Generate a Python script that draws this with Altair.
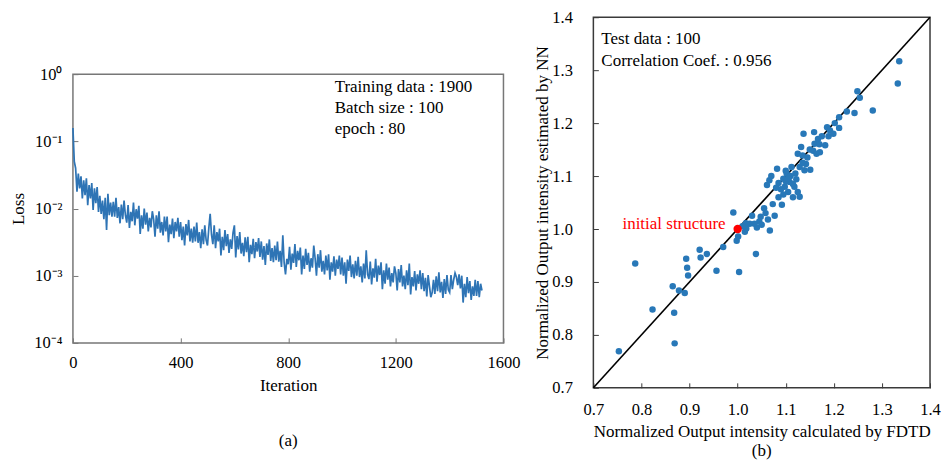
import altair as alt
import pandas as pd

FONT = "Liberation Serif"

# ---------------- (a) training loss ----------------
iterations = list(range(0, 1525, 5))
loss_log10 = [
    -0.80, -1.30, -1.40, -1.75, -1.48, -1.70, -1.52, -1.85, -1.58, -1.80, -1.55, -1.95, -1.65, -1.85, -1.62, -2.02, -1.70, -1.92, -1.68, -2.05,
    -1.81, -2.08, -1.88, -2.16, -1.84, -2.32, -1.78, -2.10, -1.91, -2.12, -1.90, -2.12, -1.84, -2.14, -1.98, -2.22, -1.94, -2.16, -1.88, -2.10,
    -2.21, -1.95, -2.29, -2.05, -2.19, -1.91, -2.25, -2.01, -2.15, -1.96, -2.38, -2.10, -2.30, -2.00, -2.24, -2.06, -2.34, -2.14, -2.28, -2.04,
    -2.16, -2.42, -2.10, -2.30, -2.04, -2.36, -2.20, -2.40, -2.12, -2.34, -2.12, -2.50, -2.24, -2.38, -2.15, -2.44, -2.20, -2.34, -2.14, -2.42,
    -2.20, -2.47, -2.27, -2.55, -2.23, -2.40, -2.17, -2.49, -2.30, -2.51, -2.27, -2.49, -2.21, -2.51, -2.35, -2.59, -2.31, -2.53, -2.25, -2.47,
    -2.55, -2.29, -2.08, -2.39, -2.53, -2.25, -2.59, -2.35, -2.49, -2.30, -2.70, -2.42, -2.62, -2.32, -2.56, -2.38, -2.66, -2.46, -2.60, -2.36,
    -2.25, -2.73, -2.41, -2.61, -2.35, -2.67, -2.51, -2.71, -2.43, -2.65, -2.42, -2.80, -2.54, -2.68, -2.45, -2.74, -2.50, -2.64, -2.44, -2.72,
    -2.49, -2.76, -2.56, -2.84, -2.52, -2.69, -2.46, -2.78, -2.59, -2.80, -2.55, -2.77, -2.49, -2.79, -2.63, -2.87, -2.40, -2.81, -2.98, -2.75,
    -2.83, -2.57, -2.91, -2.67, -2.81, -2.53, -2.87, -2.63, -2.77, -2.58, -2.98, -2.70, -2.90, -2.60, -2.84, -2.66, -2.94, -2.74, -2.88, -2.55,
    -2.74, -3.00, -2.68, -2.88, -2.62, -2.94, -2.78, -2.98, -2.70, -2.92, -2.68, -3.06, -2.80, -2.94, -2.71, -3.00, -2.76, -2.90, -2.70, -2.98,
    -2.73, -3.00, -2.80, -3.12, -2.76, -2.93, -2.70, -3.02, -2.83, -3.04, -2.78, -3.00, -2.72, -3.02, -2.86, -3.10, -2.82, -3.04, -2.62, -2.98,
    -3.05, -2.79, -3.13, -2.89, -3.03, -2.75, -3.09, -2.85, -2.99, -2.80, -3.20, -2.92, -3.12, -2.82, -3.06, -2.88, -3.16, -2.96, -3.10, -2.86,
    -2.96, -3.22, -2.90, -3.10, -2.84, -3.16, -3.00, -3.20, -2.92, -3.14, -2.82, -3.28, -3.02, -3.16, -2.93, -3.22, -2.98, -3.12, -2.92, -3.20,
    -2.96, -3.23, -3.03, -3.31, -2.99, -3.16, -3.32, -3.25, -3.06, -3.27, -3.01, -3.23, -2.95, -3.25, -3.09, -3.33, -3.05, -3.27, -2.99, -3.21,
    -3.25, -2.99, -3.20, -3.06, -2.96, -3.02, -3.14, -2.98, -3.19, -3.00, -3.40, -3.12, -3.32, -3.02, -3.26, -3.08, -3.36, -3.16, -3.30, -3.06,
    -3.30, -3.08, -3.32, -3.12, -3.22,
]
x_ticks_left = [0, 400, 800, 1200, 1600]
y_ticks_left = [0.0001, 0.001, 0.01, 0.1, 1]
notes_left = ["Training data : 1900", "Batch size : 100", "epoch : 80"]

# ---------------- (b) NN vs FDTD ----------------
fdtd = [0.753, 0.787, 0.823, 0.865, 0.868, 0.869, 0.878, 0.890, 0.893, 0.895,
        0.897, 0.921, 0.923, 0.936, 0.956, 0.970, 0.991, 0.998, 1.001, 1.003,
        1.015, 1.017, 1.018, 1.030, 1.038, 1.040, 1.045, 1.048, 1.055, 1.035,
        1.067, 1.073, 1.077, 1.092, 1.061, 1.066, 1.070, 1.082, 1.085, 1.095,
        1.098, 1.102, 1.105, 1.108, 1.112, 1.115, 1.118, 1.122, 1.125, 1.129,
        1.129, 1.132, 1.135, 1.137, 1.139, 1.142, 1.151, 1.157, 1.159, 1.160,
        1.164, 1.167, 1.171, 1.182, 1.186, 1.189, 1.192, 1.202, 1.211, 1.211,
        1.227, 1.243, 1.249, 1.254, 1.281, 1.333, 1.336, 1.199, 1.058, 1.063,
        1.085, 1.090, 1.100, 1.110, 1.120, 1.115, 1.105, 1.125, 1.135, 1.145,
        1.150, 1.170, 1.175, 1.095, 1.010, 1.025, 1.050, 1.080, 1.100]
nn = [0.769, 0.935, 0.848, 0.892, 0.842, 0.784, 0.884, 0.879, 0.944, 0.927,
      0.912, 0.961, 0.946, 0.953, 0.921, 0.966, 1.031, 0.978, 0.986, 0.919,
      0.995, 1.011, 1.001, 1.025, 0.953, 1.003, 1.014, 1.023, 1.039, 1.010,
      0.997, 1.047, 1.025, 1.046, 1.083, 1.092, 1.100, 1.114, 1.087, 1.095,
      1.080, 1.105, 1.070, 1.089, 1.117, 1.060, 1.080, 1.094, 1.142, 1.061,
      1.117, 1.155, 1.139, 1.180, 1.111, 1.123, 1.112, 1.148, 1.183, 1.161,
      1.142, 1.170, 1.145, 1.158, 1.192, 1.175, 1.186, 1.200, 1.191, 1.211,
      1.222, 1.219, 1.260, 1.248, 1.224, 1.275, 1.317, 1.180, 1.030, 1.018,
      1.060, 1.075, 1.090, 1.100, 1.105, 1.085, 1.095, 1.070, 1.125, 1.135,
      1.150, 1.160, 1.175, 1.065, 1.005, 1.010, 1.008, 1.078, 1.110]
init_x = [1.0]
init_y = [1.0]
init_label = "initial structure"
diag = [0.7, 1.4]
ticks_right = [0.7, 0.8, 0.9, 1.0, 1.1, 1.2, 1.3, 1.4]
notes_right = ["Test data : 100", "Correlation Coef. : 0.956"]

one_row = pd.DataFrame({"k": [0]})


def note_layers(lines, x0, y0, step):
    return [
        alt.Chart(one_row).mark_text(
            text=t, align="left", baseline="alphabetic", fontSize=17, font=FONT, color="black"
        ).encode(x=alt.value(x0), y=alt.value(y0 + i * step))
        for i, t in enumerate(lines)
    ]


# ---------------- build (a) ----------------
LW, LH = 431, 269
LEFT_FRAME = "#777777"
df_loss = pd.DataFrame({"iteration": iterations, "loss": [10 ** v for v in loss_log10]})
xs_left = alt.Scale(domain=[0, 1600], nice=False, zero=False)
ys_left = alt.Scale(type="log", domain=[0.0001, 1], nice=False)
sup_expr = ("datum.value > 0.5 ? '10⁰' : datum.value > 0.05 ? '10⁻¹' : "
            "datum.value > 0.005 ? '10⁻²' : datum.value > 0.0005 ? '10⁻³' : '10⁻⁴'")

loss_line = alt.Chart(df_loss).mark_line(color="#2e74b5", strokeWidth=1.7).encode(
    x=alt.X("iteration:Q", scale=xs_left,
            axis=alt.Axis(orient="bottom", values=x_ticks_left, format="d", title="Iteration", tickSize=0,
                          domain=False, grid=False, labelPadding=12, titlePadding=6, labelFlush=False)),
    y=alt.Y("loss:Q", scale=ys_left,
            axis=alt.Axis(orient="left", values=y_ticks_left, labelExpr=sup_expr, title="Loss", tickSize=0,
                          domain=False, grid=False, labelPadding=11, titlePadding=6, labelFlush=False)),
)
left_ticks = alt.Chart(df_loss).mark_line(opacity=0).encode(
    x=alt.X("iteration:Q", scale=xs_left,
            axis=alt.Axis(orient="top", offset=-LH, values=x_ticks_left, labels=False, title=None,
                          tickSize=5, tickColor=LEFT_FRAME, domain=False, grid=False)),
    y=alt.Y("loss:Q", scale=ys_left,
            axis=alt.Axis(orient="right", offset=-LW, values=y_ticks_left, labels=False, title=None,
                          tickSize=5, tickColor=LEFT_FRAME, domain=False, grid=False)),
)

left = alt.layer(loss_line, left_ticks, *note_layers(notes_left, 262, 18, 21)).properties(
    width=LW, height=LH,
    view=alt.ViewBackground(stroke=LEFT_FRAME, strokeWidth=1.5),
    title=alt.TitleParams("(a)", orient="bottom", offset=40, fontSize=17, font=FONT,
                          fontWeight="normal", anchor="middle", frame="group", color="black"),
)
spacer = alt.Chart(one_row).mark_point(opacity=0, size=1).encode(
    x=alt.value(2), y=alt.value(24)
).properties(width=LW, height=47, view=alt.ViewBackground(stroke="transparent"))
left_col = alt.vconcat(spacer, left, spacing=0)

# ---------------- build (b) ----------------
RW, RH = 337, 371
RIGHT_FRAME = "#3a3a3a"
xs_r = alt.Scale(domain=[0.7, 1.4], nice=False, zero=False)
ys_r = alt.Scale(domain=[0.7, 1.4], nice=False, zero=False)

diag_line = alt.Chart(pd.DataFrame({"a": diag, "b": diag})).mark_line(color="black", strokeWidth=1.6).encode(
    x=alt.X("a:Q", scale=xs_r,
            axis=alt.Axis(orient="bottom", values=ticks_right, format=".1f",
                          title="Normalized Output intensity calculated by FDTD",
                          tickSize=0, domain=False, grid=False, labelPadding=14, titlePadding=5, labelFlush=False)),
    y=alt.Y("b:Q", scale=ys_r,
            axis=alt.Axis(orient="left", values=ticks_right, format=".1f",
                          title="Normalized Output intensity estimated by NN",
                          tickSize=0, domain=False, grid=False, labelPadding=21, titlePadding=0, labelFlush=False)),
)
right_ticks = alt.Chart(pd.DataFrame({"a": diag, "b": diag})).mark_line(opacity=0).encode(
    x=alt.X("a:Q", scale=xs_r,
            axis=alt.Axis(orient="top", offset=-RH, values=ticks_right, labels=False, title=None,
                          tickSize=5, tickColor=RIGHT_FRAME, domain=False, grid=False)),
    y=alt.Y("b:Q", scale=ys_r,
            axis=alt.Axis(orient="right", offset=-RW, values=ticks_right, labels=False, title=None,
                          tickSize=5, tickColor=RIGHT_FRAME, domain=False, grid=False)),
)
pts = alt.Chart(pd.DataFrame({"fdtd": fdtd, "nn": nn})).mark_circle(size=42, color="#2878b8", opacity=1).encode(
    x=alt.X("fdtd:Q", scale=xs_r, axis=None),
    y=alt.Y("nn:Q", scale=ys_r, axis=None),
)
df_init = pd.DataFrame({"x": init_x, "y": init_y})
red_pt = alt.Chart(df_init).mark_circle(size=70, color="#ff0000", opacity=1).encode(
    x=alt.X("x:Q", scale=xs_r, axis=None),
    y=alt.Y("y:Q", scale=ys_r, axis=None),
)
red_lbl = alt.Chart(df_init).mark_text(
    text=init_label, color="#ff0000", align="right", baseline="alphabetic", dx=-12, fontSize=17, font=FONT
).encode(
    x=alt.X("x:Q", scale=xs_r, axis=None),
    y=alt.Y("y:Q", scale=ys_r, axis=None),
)

right = alt.layer(diag_line, right_ticks, pts, red_pt, red_lbl, *note_layers(notes_right, 8, 27, 22)).properties(
    width=RW, height=RH,
    view=alt.ViewBackground(stroke=RIGHT_FRAME, strokeWidth=1.5),
    title=alt.TitleParams("(b)", orient="bottom", offset=4, fontSize=17, font=FONT,
                          fontWeight="normal", anchor="middle", frame="group", color="black"),
)

chart = alt.hconcat(left_col, right, spacing=11).properties(
    padding={"left": 0, "top": 0, "right": 0, "bottom": 0}
).configure(font=FONT, background="white").configure_axis(
    labelFont=FONT, titleFont=FONT, labelFontSize=16.5, titleFontSize=17,
    titleFontWeight="normal", labelColor="black", titleColor="black",
)

chart.save("out.html", embed_options={"renderer": "svg", "actions": False})
